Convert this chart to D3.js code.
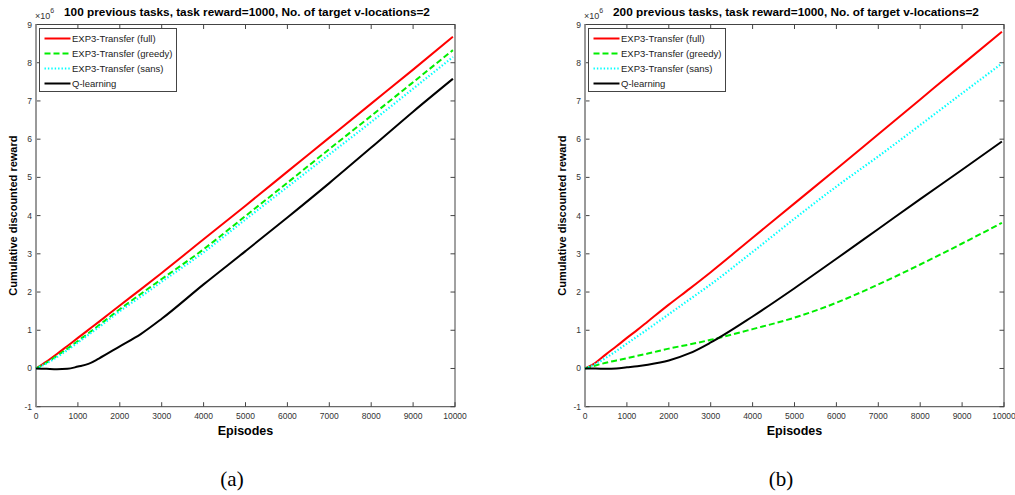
<!DOCTYPE html>
<html><head><meta charset="utf-8">
<script src="https://cdn.jsdelivr.net/npm/d3@7"></script>
<style>
body{margin:0;background:#fff;}
svg{display:block;}
</style></head>
<body>
<svg id="chart" width="1015" height="495" font-family="'Liberation Sans',Arial,Helvetica,sans-serif"></svg>
<script>
// ---------- data ----------
const episodes = [0,250,500,750,1000,1250,1500,2000,2500,3000,4000,5000,6000,7000,8000,9000,9950];

const fullA   = [0,0.18,0.38,0.59,0.80,1.01,1.22,1.65,2.07,2.50,3.38,4.26,5.15,6.04,6.93,7.82,8.68];
const greedyA = [0,0.15,0.33,0.52,0.72,0.92,1.13,1.55,1.95,2.34,3.12,3.99,4.86,5.74,6.61,7.49,8.33];
const sansA   = [0,0.13,0.30,0.48,0.68,0.88,1.08,1.50,1.88,2.27,3.04,3.90,4.75,5.60,6.45,7.32,8.15];
const qA      = [0,-0.01,-0.02,-0.01,0.05,0.12,0.26,0.58,0.90,1.30,2.20,3.07,3.95,4.85,5.78,6.72,7.58];

const fullB   = [0,0.15,0.37,0.58,0.80,1.01,1.23,1.67,2.09,2.52,3.42,4.32,5.22,6.13,7.04,7.95,8.81];
const greedyB = [0,0.08,0.15,0.21,0.27,0.33,0.39,0.52,0.63,0.75,1.03,1.33,1.72,2.20,2.72,3.27,3.81];
const sansB   = [0,0.12,0.28,0.46,0.65,0.84,1.03,1.42,1.81,2.20,3.05,3.92,4.76,5.55,6.37,7.20,7.98];
const qB      = [0,0,-0.01,0,0.03,0.06,0.10,0.21,0.40,0.68,1.36,2.10,2.87,3.65,4.43,5.20,5.94];

const seriesNames = ["EXP3-Transfer (full)","EXP3-Transfer (greedy)","EXP3-Transfer (sans)","Q-learning"];
const xTicks = [0,1000,2000,3000,4000,5000,6000,7000,8000,9000,10000];
const yTicks = [-1,0,1,2,3,4,5,6,7,8,9];
const titles = ["100 previous tasks, task reward=1000, No. of target v-locations=2",
                "200 previous tasks, task reward=1000, No. of target v-locations=2"];
const panelLabels = ["(a)","(b)"];
const xLabel = "Episodes";
const yLabel = "Cumulative discounted reward";

// ---------- styles ----------
const styles = [
  {color:"#ff0000", dash:null, width:2},
  {color:"#00ee00", dash:"6,3", width:2},
  {color:"#00ffff", dash:"1.4,2", width:2.2},
  {color:"#000000", dash:null, width:2}
];

const svg = d3.select("#chart");
const panels = [
  {offset:0,   data:[fullA,greedyA,sansA,qA]},
  {offset:549, data:[fullB,greedyB,sansB,qB]}
];

panels.forEach((p,pi)=>{
  const x0 = 36 + p.offset, x1 = 455 + p.offset;
  const yTop = 24.5, yBot = 406.7;
  const x = d3.scaleLinear().domain([0,10000]).range([x0,x1]);
  const y = d3.scaleLinear().domain([-1,9]).range([yBot,yTop]);
  const g = svg.append("g");

  g.append("rect").attr("x",x0).attr("y",yTop).attr("width",x1-x0).attr("height",yBot-yTop)
    .attr("fill","#fff").attr("stroke","#444").attr("stroke-width",1);

  const tl = 4.5;
  xTicks.forEach(t=>{
    g.append("line").attr("x1",x(t)).attr("x2",x(t)).attr("y1",yBot).attr("y2",yBot-tl).attr("stroke","#444");
    g.append("line").attr("x1",x(t)).attr("x2",x(t)).attr("y1",yTop).attr("y2",yTop+tl).attr("stroke","#444");
    g.append("text").attr("x",x(t)).attr("y",yBot+12).attr("text-anchor","middle")
      .attr("font-size",8.5).attr("fill","#333").text(t);
  });
  yTicks.forEach(t=>{
    g.append("line").attr("x1",x0).attr("x2",x0+tl).attr("y1",y(t)).attr("y2",y(t)).attr("stroke","#444");
    g.append("line").attr("x1",x1).attr("x2",x1-tl).attr("y1",y(t)).attr("y2",y(t)).attr("stroke","#444");
    g.append("text").attr("x",x0-4).attr("y",y(t)+3).attr("text-anchor","end")
      .attr("font-size",8.5).attr("fill","#333").text(t);
  });
  g.append("line").attr("x1",x0).attr("x2",x0).attr("y1",yTop).attr("y2",yBot)
    .attr("stroke","#999").attr("stroke-width",1.8);

  const line = d3.line().x((d,i)=>x(episodes[i])).y(d=>y(d)).curve(d3.curveMonotoneX);
  [0,1,2,3].forEach(si=>{
    const st = styles[si];
    g.append("path").datum(p.data[si]).attr("d",line).attr("fill","none")
      .attr("stroke",st.color).attr("stroke-width",st.width)
      .attr("stroke-dasharray",st.dash);
  });

  const ex = g.append("text").attr("x",x0-1).attr("y",19).attr("font-size",9).attr("fill","#333");
  ex.append("tspan").text("\u00d710");
  ex.append("tspan").attr("dy",-6).attr("font-size",7).text("6");

  g.append("text").attr("x",(x0+x1)/2+1.5).attr("y",16).attr("text-anchor","middle")
    .attr("font-size",11.8).attr("font-weight","bold").attr("fill","#000").text(titles[pi]);

  g.append("text").attr("x",(x0+x1)/2).attr("y",435).attr("text-anchor","middle")
    .attr("font-size",12.5).attr("font-weight","bold").text(xLabel);
  g.append("text").attr("transform",`translate(${x0-19},${(yTop+yBot)/2}) rotate(-90)`)
    .attr("text-anchor","middle").attr("font-size",11).attr("font-weight","bold").text(yLabel);

  const lx = x0+3.5, ly = 28.5;
  g.append("rect").attr("x",lx).attr("y",ly).attr("width",137).attr("height",63)
    .attr("fill","#fff").attr("stroke","#444").attr("stroke-width",1);
  seriesNames.forEach((nm,i)=>{
    const cy = 38.5 + i*15;
    const st = styles[i];
    g.append("line").attr("x1",lx+5).attr("x2",lx+31).attr("y1",cy).attr("y2",cy)
      .attr("stroke",st.color).attr("stroke-width",st.width).attr("stroke-dasharray",st.dash);
    g.append("text").attr("x",lx+32.5).attr("y",cy+3.3).attr("font-size",9.5).attr("fill","#222").text(nm);
  });

  g.append("text").attr("x",pi===0?232:781).attr("y",486).attr("text-anchor","middle")
    .style("font-family","'Liberation Serif','Times New Roman',serif").attr("font-size",21)
    .attr("fill","#000").text(panelLabels[pi]);
});
</script>
</body></html>
